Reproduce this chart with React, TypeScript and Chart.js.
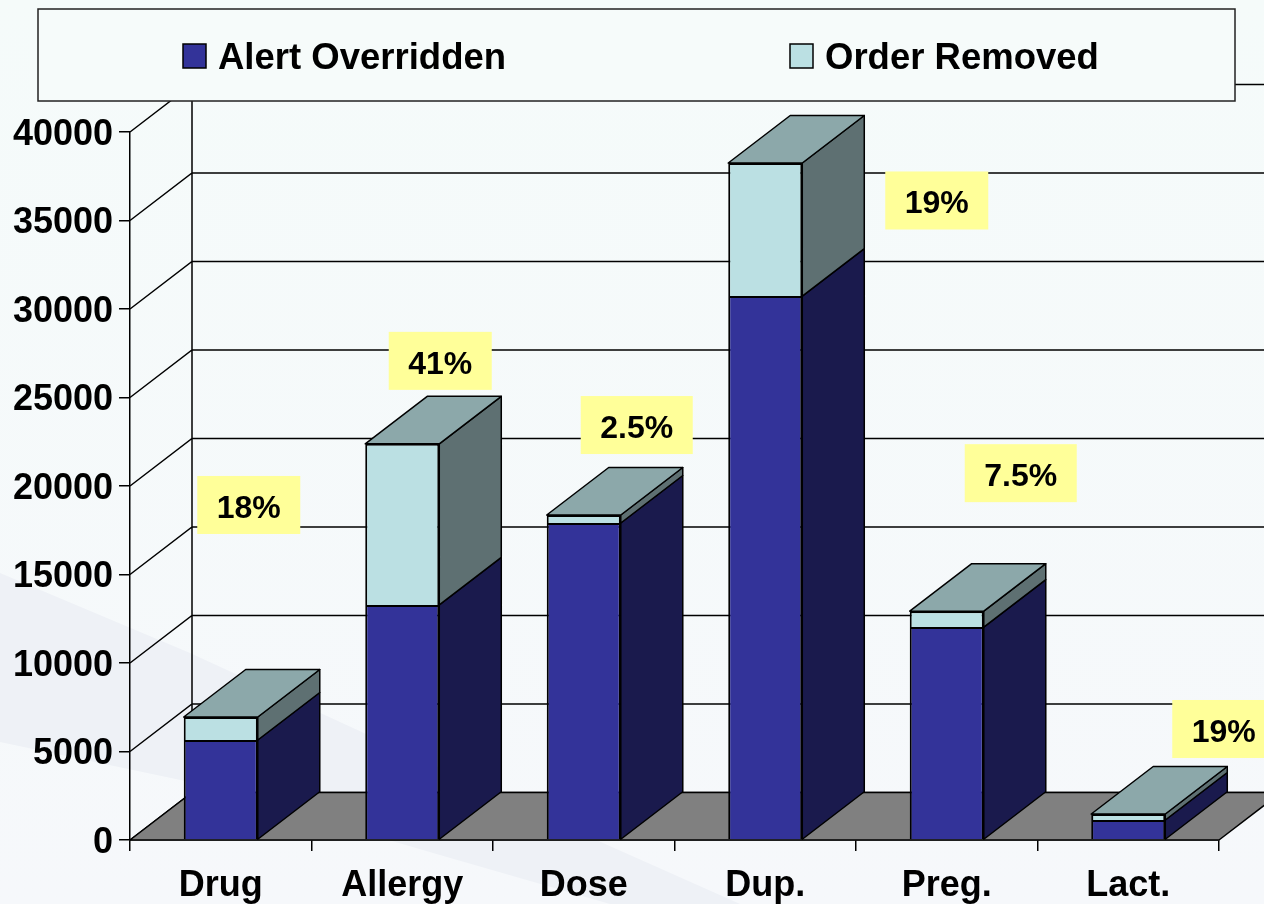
import React, { useEffect, useRef } from "react";
import { Chart, registerables } from "chart.js";

Chart.register(...registerables);

const categories = ["Drug", "Allergy", "Dose", "Dup.", "Preg.", "Lact."];
const alertOverridden = [5650, 13280, 17910, 30730, 12030, 1130];
const orderRemoved = [1300, 9100, 450, 7520, 900, 340];
const percentLabels = ["18%", "41%", "2.5%", "19%", "7.5%", "19%"];
const yTicks = [0, 5000, 10000, 15000, 20000, 25000, 30000, 35000, 40000];

// label-box centre, relative to the top of its bar
const labelOffsets = [
  [28, -212],
  [38, -83],
  [53, -90],
  [171.5, 37.5],
  [74, -138],
  [95.5, -85],
];
const labelWidths = [103, 103, 112, 103, 112, 103];

const DEPTH_X = 62;
const DEPTH_Y = -47.5;
const FONT = '"Liberation Sans", Arial, sans-serif';

const poly = (ctx: CanvasRenderingContext2D, pts: number[][], fill: string, lw = 1.5) => {
  ctx.beginPath();
  pts.forEach(([x, y], i) => (i ? ctx.lineTo(x, y) : ctx.moveTo(x, y)));
  ctx.closePath();
  ctx.fillStyle = fill;
  ctx.fill();
  ctx.lineWidth = lw;
  ctx.strokeStyle = "#000";
  ctx.lineJoin = "round";
  ctx.stroke();
};

const backdrop = {
  id: "backdrop",
  beforeDraw(chart: any) {
    const { ctx, width, height } = chart;
    ctx.save();
    const g = ctx.createLinearGradient(0, 0, 0, height);
    g.addColorStop(0, "#F5FBFA");
    g.addColorStop(1, "#F6F8FB");
    ctx.fillStyle = g;
    ctx.fillRect(0, 0, width, height);
    ctx.beginPath();
    ctx.moveTo(0, 573);
    ctx.lineTo(190, 653);
    ctx.lineTo(603, 843);
    ctx.lineTo(740, 904);
    ctx.lineTo(610, 904);
    ctx.lineTo(440, 855);
    ctx.lineTo(190, 782);
    ctx.lineTo(0, 742);
    ctx.closePath();
    ctx.fillStyle = "#EEF1F6";
    ctx.fill();
    ctx.restore();
  },
};

const walls = {
  id: "walls",
  beforeDatasetsDraw(chart: any) {
    const { ctx, chartArea: a, scales } = chart;
    const y = scales.y;
    const base = y.getPixelForValue(0);
    const top = y.getPixelForValue(y.max);
    ctx.save();
    ctx.strokeStyle = "#000";
    ctx.lineWidth = 1.5;
    ctx.beginPath();
    ctx.moveTo(a.left + DEPTH_X, base + DEPTH_Y);
    ctx.lineTo(a.left + DEPTH_X, top + DEPTH_Y);
    y.ticks.forEach((t: any) => {
      const p = y.getPixelForValue(t.value);
      ctx.moveTo(a.left, p);
      ctx.lineTo(a.left + DEPTH_X, p + DEPTH_Y);
      ctx.lineTo(a.right + DEPTH_X, p + DEPTH_Y);
    });
    ctx.stroke();
    poly(ctx, [
      [a.left, base],
      [a.right, base],
      [a.right + DEPTH_X, base + DEPTH_Y],
      [a.left + DEPTH_X, base + DEPTH_Y],
    ], "#808080");

    // depth faces of every stacked bar, from the library's bar elements
    const last = chart.data.datasets.length - 1;
    chart.data.datasets.forEach((ds: any, di: number) => {
      chart.getDatasetMeta(di).data.forEach((bar: any) => {
        const half = bar.width / 2;
        const l = bar.x - half;
        const r = bar.x + half;
        poly(ctx, [
          [r, bar.base],
          [r + DEPTH_X, bar.base + DEPTH_Y],
          [r + DEPTH_X, bar.y + DEPTH_Y],
          [r, bar.y],
        ], ds.sideColor);
        if (di === last) {
          poly(ctx, [
            [l, bar.y],
            [r, bar.y],
            [r + DEPTH_X, bar.y + DEPTH_Y],
            [l + DEPTH_X, bar.y + DEPTH_Y],
          ], ds.topColor);
        }
      });
    });
    ctx.restore();
  },
};

const overlays = {
  id: "overlays",
  afterDraw(chart: any) {
    const { ctx } = chart;
    ctx.save();
    // percentage callouts, placed relative to the top of each bar
    const lastMeta = chart.getDatasetMeta(chart.data.datasets.length - 1);
    ctx.textAlign = "center";
    ctx.textBaseline = "middle";
    ctx.font = `bold 32px ${FONT}`;
    percentLabels.forEach((text, i) => {
      const bar = lastMeta.data[i];
      const cx = bar.x + labelOffsets[i][0];
      const cy = bar.y + labelOffsets[i][1];
      const w = labelWidths[i];
      ctx.fillStyle = "#FFFF99";
      ctx.fillRect(cx - w / 2, cy - 29, w, 58);
      ctx.fillStyle = "#000";
      ctx.fillText(text, cx, cy + 4);
    });

    // legend frame with the dataset names
    ctx.fillStyle = "#F6FBFA";
    ctx.fillRect(38, 9, 1197, 92);
    ctx.strokeStyle = "#222";
    ctx.lineWidth = 1.5;
    ctx.strokeRect(38, 9, 1197, 92);
    const itemX = [183, 790];
    ctx.textAlign = "left";
    ctx.font = `bold 36.5px ${FONT}`;
    chart.data.datasets.forEach((ds: any, i: number) => {
      ctx.fillStyle = ds.backgroundColor;
      ctx.fillRect(itemX[i], 44, 23, 24);
      ctx.strokeStyle = "#000";
      ctx.strokeRect(itemX[i], 44, 23, 24);
      ctx.fillStyle = "#000";
      ctx.fillText(ds.label, itemX[i] + 35, 59);
    });
    ctx.restore();
  },
};

export default function App() {
  const ref = useRef<HTMLCanvasElement>(null);
  useEffect(() => {
    const chart = new Chart(ref.current!, {
      type: "bar",
      data: {
        labels: categories,
        datasets: [
          {
            label: "Alert Overridden",
            data: alertOverridden,
            backgroundColor: "#333399",
            sideColor: "#1A1A4D",
            topColor: "#26267A",
            borderColor: "#000",
            borderWidth: 2,
          },
          {
            label: "Order Removed",
            data: orderRemoved,
            backgroundColor: "#BBE0E3",
            sideColor: "#5E7072",
            topColor: "#8CA8AA",
            borderColor: "#000",
            borderWidth: 2,
          },
        ] as any,
      },
      options: {
        animation: false,
        responsive: false,
        layout: { padding: { top: 132, right: 45, left: 0, bottom: 0 } },
        plugins: { legend: { display: false }, tooltip: { enabled: false } },
        datasets: { bar: { barPercentage: 0.408, categoryPercentage: 1 } },
        scales: {
          x: {
            stacked: true,
            afterFit: (s: any) => { s.height = 64; },
            grid: { drawOnChartArea: false, drawTicks: true, tickLength: 11, color: "#000", lineWidth: 1.5 },
            border: { color: "#000", width: 1.5 },
            ticks: { color: "#000", padding: 13, font: { family: FONT, size: 36, weight: "bold" }, maxRotation: 0 },
          },
          y: {
            stacked: true,
            min: yTicks[0],
            max: yTicks[yTicks.length - 1],
            afterFit: (s: any) => { s.width = 130; },
            afterBuildTicks: (s: any) => { s.ticks = yTicks.map((value) => ({ value })); },
            grid: { drawOnChartArea: false, drawTicks: true, tickLength: 11, color: "#000", lineWidth: 1.5 },
            border: { color: "#000", width: 1.5 },
            ticks: { color: "#000", padding: 6, labelOffset: 3, font: { family: FONT, size: 36, weight: "bold" }, callback: (v: any) => String(v) },
          },
        },
      } as any,
      plugins: [backdrop, walls, overlays],
    });
    return () => chart.destroy();
  }, []);
  return (
    <canvas
      ref={ref}
      width={1264}
      height={904}
      style={{ position: "absolute", left: 0, top: 0, display: "block" }}
    />
  );
}
